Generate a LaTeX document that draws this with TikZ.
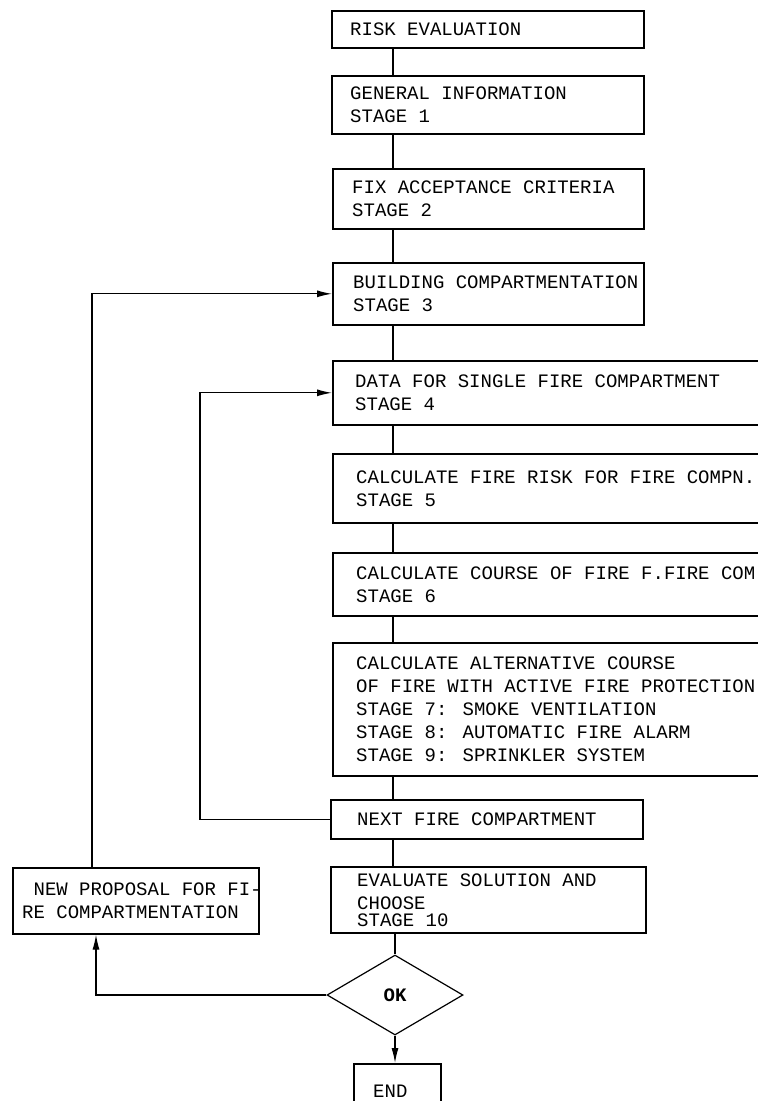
\documentclass[tikz,border=0pt]{standalone}
\usepackage{fontspec}
\newfontfamily\tfont{Liberation Mono}
\usetikzlibrary{shapes.geometric,arrows.meta}
\tikzset{
  box/.style={draw, line width=1.6pt, rectangle, inner sep=0pt, anchor=north west},
  txt/.style={font={\tfont\fontsize{19}{23}\selectfont}, align=left, inner sep=0pt, anchor=west},
  conn/.style={line width=1.2pt},
  arr/.style={line width=1.2pt, -{Latex[length=15pt,width=7pt]}}
}
\begin{document}
\begin{tikzpicture}[x=1pt,y=-1pt]
\useasboundingbox (0,0) rectangle (758,1101);
\clip (0,0) rectangle (758,1101);
% boxes
\node[box, minimum width=312pt, minimum height=37pt] (risk) at (331,10) {};
\node[box, minimum width=312pt, minimum height=58pt] (gen) at (331,75) {};
\node[box, minimum width=311pt, minimum height=60pt] (fix) at (332,168) {};
\node[box, minimum width=311pt, minimum height=62pt] (build) at (332,262) {};
\node[box, minimum width=440pt, minimum height=64pt] (data) at (332,360) {};
\node[box, minimum width=440pt, minimum height=69pt] (calc) at (332,453) {};
\node[box, minimum width=440pt, minimum height=63pt] (course) at (332,552) {};
\node[box, minimum width=440pt, minimum height=133pt] (alt) at (332,642) {};
\node[box, minimum width=312pt, minimum height=39pt] (next) at (330,799) {};
\node[box, minimum width=315pt, minimum height=66pt] (eval) at (330,866) {};
\node[box, minimum width=246pt, minimum height=66pt] (newprop) at (12,867) {};
\node[box, minimum width=87pt, minimum height=50pt] (end) at (353,1063) {};
\node[draw, diamond, line width=1.2pt, minimum width=136pt, minimum height=80pt, inner sep=0pt,
      font={\tfont\bfseries\fontsize{19}{23}\selectfont}] (ok) at (395,995) {OK};
% texts
\node[txt] (riskT) at ([xshift=19pt]risk.west) {RISK EVALUATION};
\node[txt] (genT) at ([xshift=19pt]gen.west) {GENERAL INFORMATION\\STAGE 1};
\node[txt] (fixT) at ([xshift=20pt]fix.west) {FIX ACCEPTANCE CRITERIA\\STAGE 2};
\node[txt] (buildT) at ([xshift=21pt]build.west) {BUILDING COMPARTMENTATION\\STAGE 3};
\node[txt] (dataT) at ([xshift=23pt]data.west) {DATA FOR SINGLE FIRE COMPARTMENT\\STAGE 4};
\node[txt] (calcT) at ([xshift=24pt]calc.west) {CALCULATE FIRE RISK FOR FIRE COMPN.\\STAGE 5};
\node[txt] (courseT) at ([xshift=24pt]course.west) {CALCULATE COURSE OF FIRE F.FIRE COM\\STAGE 6};
\node[txt] (altT) at ([xshift=24pt]alt.west) {CALCULATE ALTERNATIVE COURSE\\OF FIRE WITH ACTIVE FIRE PROTECTION\\STAGE 7: SMOKE VENTILATION\\STAGE 8: AUTOMATIC FIRE ALARM\\STAGE 9: SPRINKLER SYSTEM};
\node[txt] (nextT) at ([xshift=27pt]next.west) {NEXT FIRE COMPARTMENT};
\node[txt] (evalT) at ([xshift=27pt]eval.west) {EVALUATE SOLUTION AND\\CHOOSE\\[-6pt]STAGE 10};
\node[txt] (newpropT) at ([xshift=10pt]newprop.west) {\phantom{N}NEW PROPOSAL FOR FI-\\RE COMPARTMENTATION};
\node[txt] (endT) at ([xshift=20pt,yshift=-2pt]end.west) {END};
% trunk connectors
\coordinate (tx) at (393,0);
\draw[conn] (risk.south -| tx) -- (gen.north -| tx);
\draw[conn] (gen.south -| tx) -- (fix.north -| tx);
\draw[conn] (fix.south -| tx) -- (build.north -| tx);
\draw[conn] (build.south -| tx) -- (data.north -| tx);
\draw[conn] (data.south -| tx) -- (calc.north -| tx);
\draw[conn] (calc.south -| tx) -- (course.north -| tx);
\draw[conn] (course.south -| tx) -- (alt.north -| tx);
\draw[conn] (alt.south -| tx) -- (next.north -| tx);
\draw[conn] (next.south -| tx) -- (eval.north -| tx);
\draw[conn] (eval.south -| ok) -- (ok.north);
\draw[arr] (ok.south) -- (end.north -| ok);
% loops
\coordinate (lx1) at (200,0);
\coordinate (lx2) at (92,0);
\coordinate (lx3) at (96,0);
\draw[arr] (next.west) -| (lx1 |- data.west) -- (data.west);
\draw[arr] (newprop.north -| lx2) |- (build.west);
\draw[arr] (ok.west) -| (newprop.south -| lx3);
\end{tikzpicture}
\end{document}
